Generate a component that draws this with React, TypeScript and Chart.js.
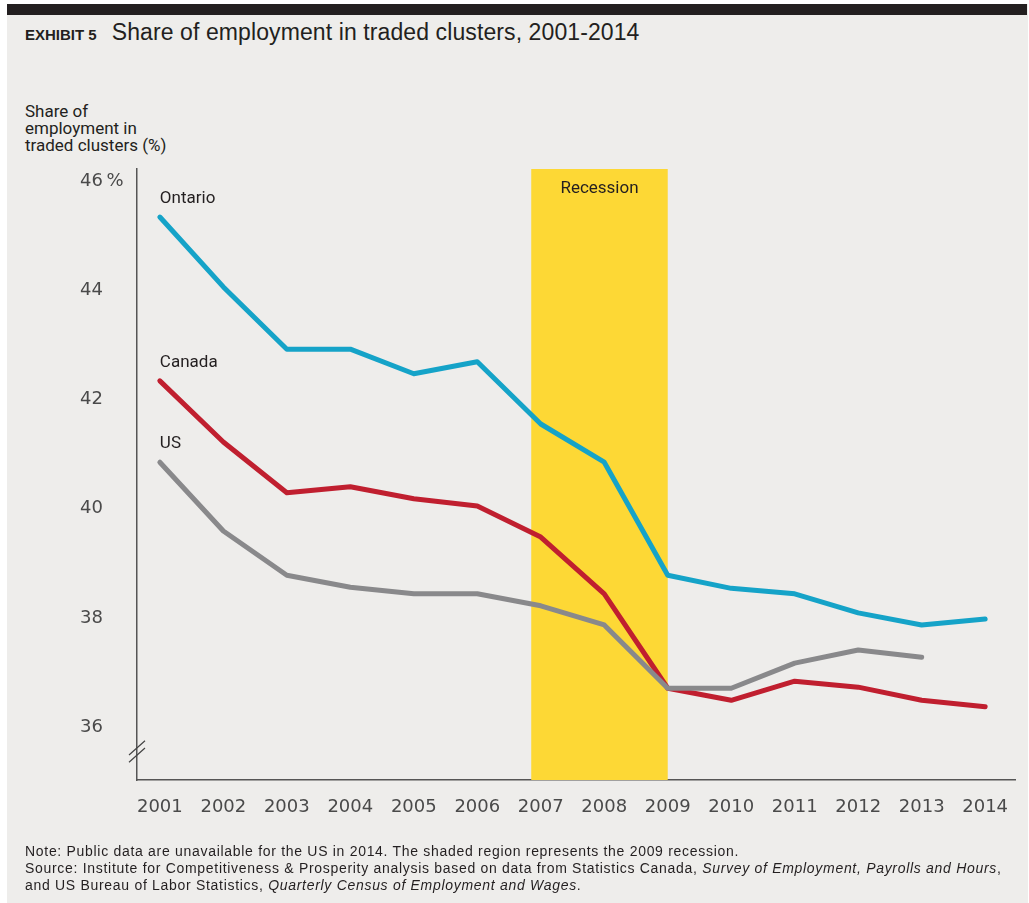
import React, { useEffect, useRef } from "react";
import { Chart, registerables } from "chart.js";

Chart.register(...registerables);

const years = [2001, 2002, 2003, 2004, 2005, 2006, 2007, 2008, 2009, 2010, 2011, 2012, 2013, 2014];
const ontario = [45.34, 44.06, 42.92, 42.92, 42.47, 42.69, 41.55, 40.85, 38.78, 38.54, 38.44, 38.09, 37.87, 37.98];
const canada = [42.34, 41.22, 40.29, 40.4, 40.18, 40.05, 39.48, 38.44, 36.71, 36.49, 36.84, 36.73, 36.49, 36.37];
const us: (number | null)[] = [40.85, 39.59, 38.78, 38.56, 38.44, 38.44, 38.22, 37.87, 36.71, 36.71, 37.17, 37.41, 37.28, null];
const yTicks = [36, 38, 40, 42, 44, 46];
const seriesNames = ["Ontario", "US", "Canada"];
const seriesColors = ["#15a3c8", "#89898b", "#c01f2f"];
const recession = [2006.85, 2009];
const recessionLabel = "Recession";

const TEXT = "#231f20";

const overlayPlugin = {
  id: "overlay",
  beforeDatasetsDraw(chart: any) {
    const { ctx, chartArea, scales } = chart;
    const xs = scales.x;
    const x0 = xs.getPixelForValue(recession[0]);
    const x1 = xs.getPixelForValue(recession[1]);
    ctx.save();
    ctx.fillStyle = "#fdd835";
    ctx.fillRect(x0, chartArea.top, x1 - x0, chartArea.bottom - chartArea.top);
    ctx.fillStyle = TEXT;
    ctx.font = "17px Roboto";
    ctx.textAlign = "center";
    ctx.textBaseline = "middle";
    ctx.fillText(recessionLabel, (x0 + x1) / 2, chartArea.top + 20);
    ctx.restore();
  },
  afterDatasetsDraw(chart: any) {
    const { ctx, scales } = chart;
    ctx.save();
    ctx.fillStyle = TEXT;
    ctx.font = "17px Roboto";
    ctx.textAlign = "left";
    ctx.textBaseline = "middle";
    chart.data.datasets.forEach((ds: any) => {
      const p = ds.data[0];
      const px = scales.x.getPixelForValue(p.x);
      const py = scales.y.getPixelForValue(p.y);
      ctx.fillText(ds.label, px, py - 18);
    });
    ctx.restore();
  },
  afterDraw(chart: any) {
    const { ctx, chartArea } = chart;
    const ax = chartArea.left;
    const b = chartArea.bottom;
    ctx.save();
    ctx.strokeStyle = "#444";
    ctx.lineWidth = 1.2;
    ctx.beginPath();
    ctx.moveTo(ax - 8, b - 25);
    ctx.lineTo(ax + 8, b - 39.3);
    ctx.moveTo(ax - 8, b - 17.7);
    ctx.lineTo(ax + 8, b - 32);
    ctx.stroke();
    ctx.restore();
  },
};

function ChartCanvas() {
  const ref = useRef<HTMLCanvasElement | null>(null);
  useEffect(() => {
    if (!ref.current) return;
    const seriesData = [ontario, us, canada];
    const chart = new Chart(ref.current, {
      type: "line",
      data: {
        datasets: seriesNames.map((name, i) => ({
          label: name,
          data: years.map((yr, j) => ({ x: yr, y: seriesData[i][j] as any })),
          borderColor: seriesColors[i],
          backgroundColor: seriesColors[i],
          borderWidth: 5,
          pointRadius: 0,
          borderCapStyle: "round",
          borderJoinStyle: "round",
          spanGaps: false,
          tension: 0,
        })),
      },
      options: {
        animation: false,
        responsive: false,
        maintainAspectRatio: false,
        devicePixelRatio: 1,
        layout: { padding: { left: 80, right: 14, top: 169, bottom: 83 } },
        plugins: {
          legend: { display: false },
          tooltip: { enabled: false },
          title: { display: false },
        },
        scales: {
          x: {
            type: "linear",
            min: 2000.64,
            max: 2014.47,
            afterBuildTicks: (s: any) => {
              s.ticks = years.map((v) => ({ value: v }));
            },
            afterFit: (s: any) => {
              s.height = 40;
            },
            ticks: {
              callback: (v: any) => String(v),
              font: { family: "DejaVu Sans", size: 18 },
              color: "#4a4a4a",
              padding: 17,
              autoSkip: false,
              maxRotation: 0,
            },
            grid: { display: false, drawTicks: false },
            border: { display: true, color: "#555", width: 1.5 },
          },
          y: {
            type: "linear",
            min: 35.03,
            max: 46.22,
            afterBuildTicks: (s: any) => {
              s.ticks = yTicks.map((v) => ({ value: v }));
            },
            afterFit: (s: any) => {
              s.width = 57;
            },
            ticks: {
              callback: (v: any) => (v === 46 ? "46\u2009%" : String(v)),
              font: { family: "DejaVu Sans", size: 18 },
              color: "#4a4a4a",
              crossAlign: "far",
              padding: 0,
            },
            grid: { display: false, drawTicks: false },
            border: { display: true, color: "#555", width: 1.5 },
          },
        },
      } as any,
      plugins: [overlayPlugin],
    });
    return () => chart.destroy();
  }, []);
  return (
    <canvas
      ref={ref}
      width={1029}
      height={903}
      style={{ position: "absolute", left: 0, top: 0, width: 1029, height: 903 }}
    />
  );
}

export default function App() {
  return (
    <div
      style={{
        position: "fixed",
        left: 0,
        top: 0,
        width: 1029,
        height: 903,
        background: "#ffffff",
        overflow: "hidden",
      }}
    >
      <div
        style={{
          position: "absolute",
          left: 7,
          top: 4,
          width: 1021,
          height: 899,
          background: "#eeedeb",
        }}
      />
      <div
        style={{
          position: "absolute",
          left: 7,
          top: 4,
          width: 1020,
          height: 11,
          background: "#231f20",
        }}
      />
      <div
        style={{
          position: "absolute",
          left: 25,
          top: 19,
          display: "flex",
          alignItems: "baseline",
          whiteSpace: "nowrap",
          color: TEXT,
          fontFamily: "'Liberation Sans', sans-serif",
          lineHeight: "27px",
        }}
      >
        <span style={{ fontWeight: 700, fontSize: 15, marginRight: 15 }}>EXHIBIT 5</span>
        <span style={{ fontSize: 23, letterSpacing: 0.1 }}>Share of employment in traded clusters, 2001-2014</span>
      </div>
      <div
        style={{
          position: "absolute",
          left: 25,
          top: 103,
          fontFamily: "Roboto, sans-serif",
          fontSize: 17,
          lineHeight: "17px",
          color: TEXT,
          whiteSpace: "nowrap",
        }}
      >
        Share of
        <br />
        employment in
        <br />
        traded clusters (%)
      </div>
      <ChartCanvas />
      <div
        style={{
          position: "absolute",
          left: 25,
          top: 843,
          fontFamily: "'Liberation Sans', sans-serif",
          fontSize: 14,
          letterSpacing: 0.7,
          lineHeight: "17px",
          color: TEXT,
          whiteSpace: "nowrap",
        }}
      >
        Note: Public data are unavailable for the US in 2014. The shaded region represents the 2009 recession.
        <br />
        Source: Institute for Competitiveness &amp; Prosperity analysis based on data from Statistics Canada,{" "}
        <i>Survey of Employment, Payrolls and Hours</i>,
        <br />
        and US Bureau of Labor Statistics, <i>Quarterly Census of Employment and Wages</i>.
      </div>
    </div>
  );
}
